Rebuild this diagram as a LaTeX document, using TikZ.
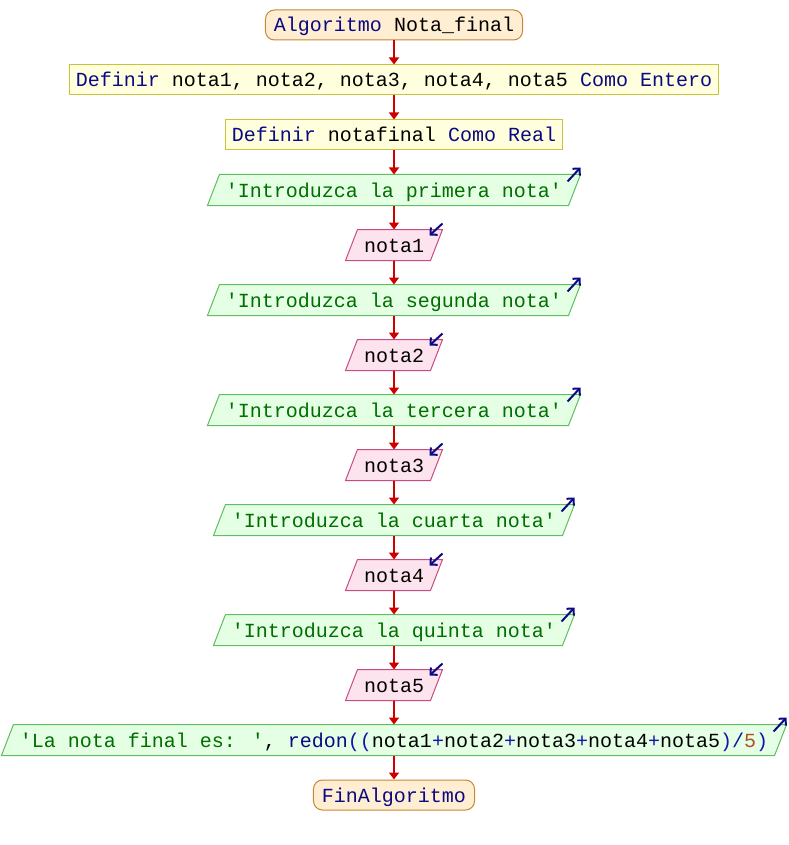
\documentclass[tikz,border=0pt]{standalone}
\usepackage{fontspec}
\newfontfamily\codefont{Liberation Mono}
\usetikzlibrary{arrows.meta,calc,backgrounds}
\definecolor{kw}{RGB}{10,10,130}
\definecolor{op}{RGB}{20,20,170}
\definecolor{str}{RGB}{0,110,0}
\definecolor{num}{RGB}{175,80,40}
\definecolor{termfill}{RGB}{255,238,210}
\definecolor{termdraw}{RGB}{200,135,50}
\definecolor{deffill}{RGB}{255,255,222}
\definecolor{defdraw}{RGB}{200,195,60}
\definecolor{outfill}{RGB}{228,255,228}
\definecolor{outdraw}{RGB}{95,190,95}
\definecolor{infill}{RGB}{253,227,238}
\definecolor{indraw}{RGB}{200,75,130}
\definecolor{flowred}{RGB}{205,0,0}
\newcommand{\K}[1]{\textcolor{kw}{#1}}
\newcommand{\Op}[1]{\textcolor{op}{#1}}
\newcommand{\Str}[1]{\textcolor{str}{#1}}
\newcommand{\Num}[1]{\textcolor{num}{#1}}
\tikzset{
  x=1pt, y=-1pt,
  base/.style={font=\codefont\fontsize{20pt}{24pt}\selectfont, text height=17pt, text depth=3pt, minimum height=30pt, inner ysep=0pt, line width=1pt},
  term/.style={base, rectangle, rounded corners=9pt, fill=termfill, draw=termdraw, inner xsep=8.5pt},
  defbox/.style={base, rectangle, fill=deffill, draw=defdraw, inner xsep=6pt},
  iobox/.style={base, rectangle, inner xsep=18pt},
  outshape/.style={fill=outfill, draw=outdraw, line width=1pt},
  inshape/.style={fill=infill, draw=indraw, line width=1pt},
  flow/.style={draw=flowred, line width=2pt, -{Triangle[length=7pt,width=10pt]}},
  icon/.style={draw=kw, line width=2pt, -{Straight Barb[length=5pt,width=10pt]}}
}
\begin{document}
\begin{tikzpicture}
\useasboundingbox (0,0) rectangle (788,845);
\node[term]   (start) at (394,25)  {\K{Algoritmo} Nota\_final};
\node[defbox] (d1)    at (394,80)  {\K{Definir} nota1, nota2, nota3, nota4, nota5 \K{Como Entero}};
\node[defbox] (d2)    at (394,135) {\K{Definir} notafinal \K{Como Real}};
\node[iobox]  (o1)    at (394,190) {\Str{'Introduzca la primera nota'}};
\node[iobox]  (i1)    at (394,245) {nota1};
\node[iobox]  (o2)    at (394,300) {\Str{'Introduzca la segunda nota'}};
\node[iobox]  (i2)    at (394,355) {nota2};
\node[iobox]  (o3)    at (394,410) {\Str{'Introduzca la tercera nota'}};
\node[iobox]  (i3)    at (394,465) {nota3};
\node[iobox]  (o4)    at (394,520) {\Str{'Introduzca la cuarta nota'}};
\node[iobox]  (i4)    at (394,575) {nota4};
\node[iobox]  (o5)    at (394,630) {\Str{'Introduzca la quinta nota'}};
\node[iobox]  (i5)    at (394,685) {nota5};
\node[iobox]  (o6)    at (394,740) {\Str{'La nota final es: '}, \K{redon}\Op{((}nota1\Op{+}nota2\Op{+}nota3\Op{+}nota4\Op{+}nota5\Op{)/}\Num{5}\Op{)}};
\node[term]   (fin)   at (394,795) {\K{FinAlgoritmo}};
\begin{scope}[on background layer]
\foreach \n in {o1,o2,o3,o4,o5,o6}
  \path[outshape] (\n.south west) -- ($(\n.north west)+(12,0)$) -- (\n.north east) -- ($(\n.south east)+(-12,0)$) -- cycle;
\foreach \n in {i1,i2,i3,i4,i5}
  \path[inshape] (\n.south west) -- ($(\n.north west)+(12,0)$) -- (\n.north east) -- ($(\n.south east)+(-12,0)$) -- cycle;
\end{scope}
\foreach \a/\b in {start/d1,d1/d2,d2/o1,o1/i1,i1/o2,o2/i2,i2/o3,o3/i3,i3/o4,o4/i4,i4/o5,o5/i5,i5/o6,o6/fin}
  \draw[flow] (\a) -- (\b);
\foreach \n in {o1,o2,o3,o4,o5,o6}
  \draw[icon] ($(\n.north east)+(-13,7)$) -- ($(\n.north east)+(0,-7)$);
\foreach \n in {i1,i2,i3,i4,i5}
  \draw[icon] ($(\n.north east)+(0,-6)$) -- ($(\n.north east)+(-13,6)$);
\end{tikzpicture}
\end{document}
